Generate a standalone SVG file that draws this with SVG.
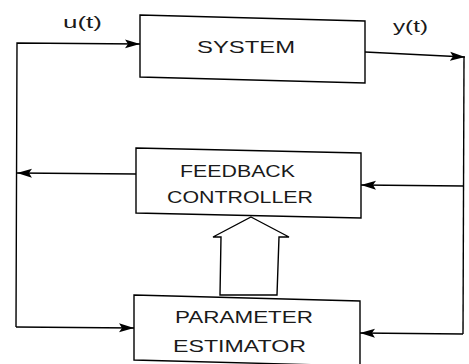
<svg xmlns="http://www.w3.org/2000/svg" width="469" height="364" viewBox="0 0 469 364">
<defs>
<marker id="ah" viewBox="0 0 15 10" refX="15" refY="5" markerWidth="15" markerHeight="10" markerUnits="userSpaceOnUse" orient="auto">
<path d="M0,0.5 L15,5 L0,9.5 L3,5 Z" fill="#000"/>
</marker>
<style>
.box{fill:#fff;stroke:#000;stroke-width:1.4}
.ln{fill:none;stroke:#000;stroke-width:1.4}
.t{font-family:"Liberation Sans",Arial,sans-serif;font-size:16.5px;fill:#1a1a1a}
</style>
</defs>
<rect width="469" height="364" fill="#fff"/>
<g id="connectors">
<polyline class="ln" points="16,327 17,43 140,44" marker-end="url(#ah)"/>
<polyline class="ln" points="365,52 465,57" marker-end="url(#ah)"/>
<line class="ln" x1="464" y1="57" x2="463" y2="334"/>
<polyline class="ln" points="136,174 17,173" marker-end="url(#ah)"/>
<polyline class="ln" points="464,186 361,185" marker-end="url(#ah)"/>
<polyline class="ln" points="16,327 134,328" marker-end="url(#ah)"/>
<polyline class="ln" points="463,334 360,333" marker-end="url(#ah)"/>
<polygon class="box" points="251,217 289,237 279,237 277,295 220,295 221,237 213,237"/>
</g>
<g id="system">
<polygon class="box" points="140,15 365,21 365,83 140,77"/>
<text class="t" x="197" y="53" textLength="98" lengthAdjust="spacingAndGlyphs">SYSTEM</text>
</g>
<g id="labels">
<text class="t" x="63" y="28" textLength="39" lengthAdjust="spacingAndGlyphs">u(t)</text>
<text class="t" x="393" y="32" textLength="35" lengthAdjust="spacingAndGlyphs">y(t)</text>
</g>
<g id="feedback-controller">
<polygon class="box" points="136,148 361,153 361,218 136,213"/>
<text class="t" x="180" y="177" textLength="115" lengthAdjust="spacingAndGlyphs">FEEDBACK</text>
<text class="t" x="167" y="203" textLength="146" lengthAdjust="spacingAndGlyphs">CONTROLLER</text>
</g>
<g id="parameter-estimator">
<polygon class="box" points="134,295 360,301 360,366 134,360"/>
<text class="t" x="175" y="323" textLength="138" lengthAdjust="spacingAndGlyphs">PARAMETER</text>
<text class="t" x="173" y="352" textLength="133" lengthAdjust="spacingAndGlyphs">ESTIMATOR</text>
</g>
</svg>
